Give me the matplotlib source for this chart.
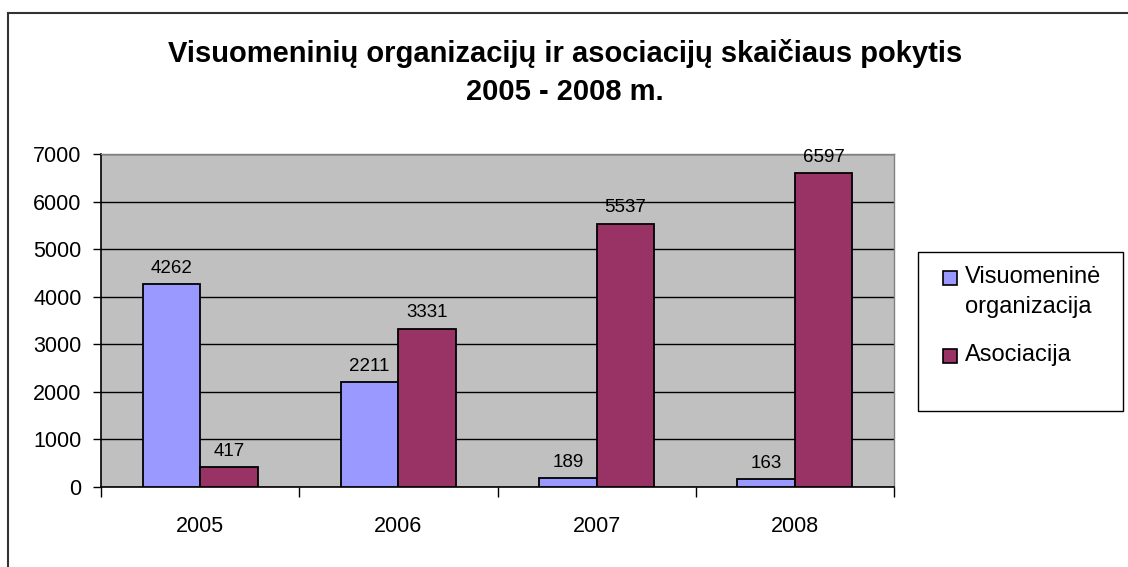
import matplotlib

matplotlib.use("Agg")

import matplotlib.pyplot as plt
import numpy as np
from matplotlib.lines import Line2D
from matplotlib.patches import Rectangle

years = ["2005", "2006", "2007", "2008"]
visuomenine = [4262, 2211, 189, 163]
asociacija = [417, 3331, 5537, 6597]
series_labels = ["Visuomeninė\norganizacija", "Asociacija"]
series_colors = ["#9999FF", "#993366"]
title_lines = ["Visuomeninių organizacijų ir asociacijų skaičiaus pokytis", "2005 - 2008 m."]

plt.rcParams["font.family"] = ["Liberation Sans", "DejaVu Sans"]

W, H = 1128, 567
fig = plt.figure(figsize=(W / 100, H / 100), dpi=100)
fig.patch.set_facecolor("white")


def fx(px):
    return px / W


def fy(py):
    return 1 - py / H


# plot area in pixel coords of the reference
left, right, top, bottom = 101, 894, 154, 487
ax = fig.add_axes([fx(left), fy(bottom), (right - left) / W, (bottom - top) / H])
ax.set_facecolor("#C0C0C0")

x = np.arange(len(years))
width = 0.29
bars1 = ax.bar(x - width / 2, visuomenine, width, color=series_colors[0], edgecolor="black", linewidth=1.3, zorder=3)
bars2 = ax.bar(x + width / 2, asociacija, width, color=series_colors[1], edgecolor="black", linewidth=1.3, zorder=3)

for bars, values in [(bars1, visuomenine), (bars2, asociacija)]:
    for bar, value in zip(bars, values):
        ax.annotate(str(value), (bar.get_x() + bar.get_width() / 2, value),
                    xytext=(0, 8), textcoords="offset points",
                    ha="center", va="baseline", fontsize=13.5)

ax.set_xlim(-0.5, len(years) - 0.5)
ax.set_ylim(0, 7000)
ax.set_yticks(range(0, 7001, 1000))
ax.tick_params(axis="y", labelsize=15.5, length=6, width=1, direction="out", pad=8)
ax.yaxis.grid(True, color="black", linewidth=1, zorder=1)
ax.set_axisbelow(True)

ax.set_xticks(np.arange(-0.5, len(years), 1.0))
ax.set_xticklabels([])
ax.set_xticks(x, minor=True)
ax.set_xticklabels(years, minor=True, fontsize=15.5)
ax.tick_params(axis="x", which="major", length=7, width=1, direction="out")
ax.tick_params(axis="x", which="minor", length=0, pad=21)

for side in ["left", "bottom"]:
    ax.spines[side].set_color("black")
    ax.spines[side].set_linewidth(1.2)
for side in ["top", "right"]:
    ax.spines[side].set_color("#808080")
    ax.spines[side].set_linewidth(1)

fig.text(fx(565), fy(62), title_lines[0], ha="center", va="baseline", fontsize=21, fontweight="bold")
fig.text(fx(565), fy(100), title_lines[1], ha="center", va="baseline", fontsize=21, fontweight="bold")

# legend frame
lx0, lx1, ly0, ly1 = 918, 1123, 252, 411
fig.add_artist(Rectangle((fx(lx0), fy(ly1)), (lx1 - lx0) / W, (ly1 - ly0) / H,
                         transform=fig.transFigure, facecolor="white",
                         edgecolor="black", linewidth=1))
# legend entries: (patch top, label first baseline)
entries = [(271, 283), (349, 361)]
for (patch_top, baseline), label, color in zip(entries, series_labels, series_colors):
    fig.add_artist(Rectangle((fx(943), fy(patch_top + 14)), 14 / W, 14 / H,
                             transform=fig.transFigure, facecolor=color,
                             edgecolor="black", linewidth=1.2))
    fig.text(fx(965), fy(baseline), label.split("\n")[0], ha="left", va="baseline", fontsize=17)
    for i, line in enumerate(label.split("\n")[1:], start=1):
        fig.text(fx(965), fy(baseline + 30 * i), line, ha="left", va="baseline", fontsize=17)

# outer chart border (cut off at right and bottom)
fig.add_artist(Line2D([fx(8), fx(8)], [0, fy(13)], transform=fig.transFigure,
                      color="#333333", linewidth=1.5))
fig.add_artist(Line2D([fx(8), 1], [fy(13), fy(13)], transform=fig.transFigure,
                      color="#333333", linewidth=1.5))

fig.savefig("out.png", dpi=100)
plt.close(fig)
